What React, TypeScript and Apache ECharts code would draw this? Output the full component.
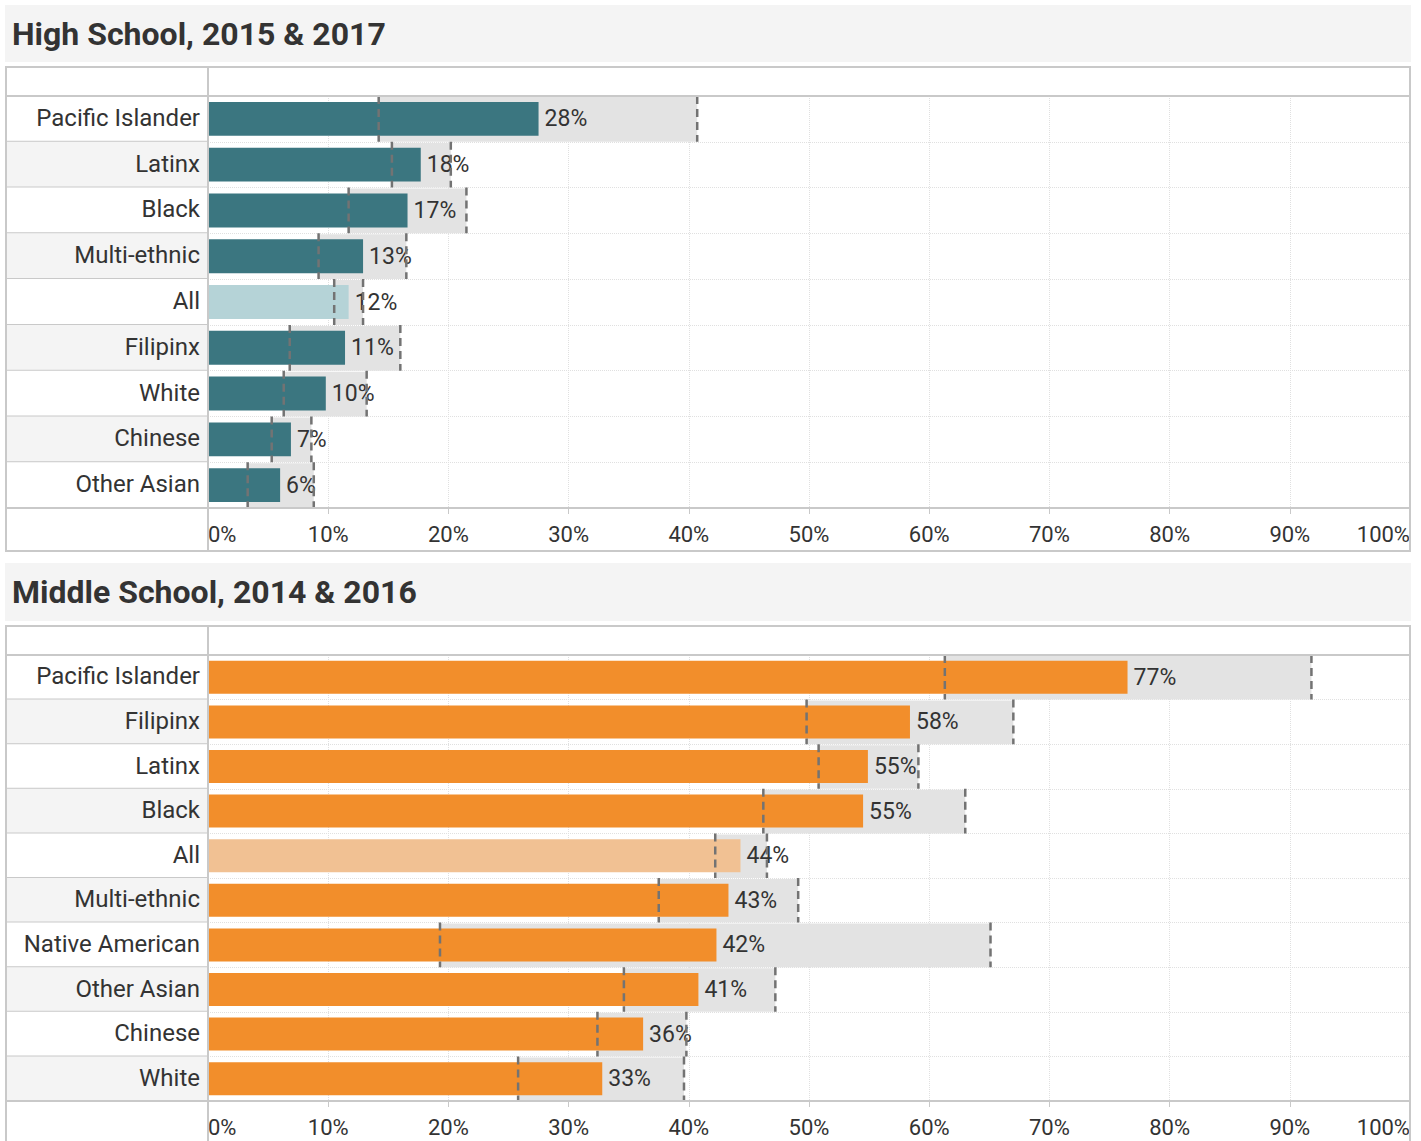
import React, { useEffect, useRef } from "react";
import * as echarts from "echarts";

// ---- Data ----
const hsTitle = "High School, 2015 & 2017";
const hsCategories = ["Pacific Islander", "Latinx", "Black", "Multi-ethnic", "All", "Filipinx", "White", "Chinese", "Other Asian"];
const hsValues = [27.5, 17.7, 16.6, 12.9, 11.7, 11.4, 9.8, 6.9, 6.0];
const hsLow = [14.2, 15.3, 11.7, 9.2, 10.5, 6.8, 6.3, 5.3, 3.3];
const hsHigh = [40.7, 20.2, 21.5, 16.5, 12.9, 16.0, 13.2, 8.6, 8.8];

const msTitle = "Middle School, 2014 & 2016";
const msCategories = ["Pacific Islander", "Filipinx", "Latinx", "Black", "All", "Multi-ethnic", "Native American", "Other Asian", "Chinese", "White"];
const msValues = [76.5, 58.4, 54.9, 54.5, 44.3, 43.3, 42.3, 40.8, 36.2, 32.8];
const msLow = [61.3, 49.8, 50.8, 46.2, 42.2, 37.5, 19.3, 34.6, 32.4, 25.8];
const msHigh = [91.8, 67.0, 59.1, 63.0, 46.5, 49.1, 65.1, 47.2, 39.8, 39.6];

const axisMin = 0;
const axisMax = 100;
const axisInterval = 10;

const FONT = 'Roboto, "Noto Sans", "DejaVu Sans", sans-serif';
const TITLE_FONT = 'Roboto, "Noto Sans", sans-serif';

const panels = [
  {
    title: hsTitle, cats: hsCategories, values: hsValues, low: hsLow, high: hsHigh,
    color: "#3b7680", allColor: "#b5d3d7",
    bandTop: 5, bandBottom: 62, frameTop: 67, gridTop: 96, gridBottom: 508, frameBottom: 551,
  },
  {
    title: msTitle, cats: msCategories, values: msValues, low: msLow, high: msHigh,
    color: "#f28e2b", allColor: "#f1c193",
    bandTop: 563, bandBottom: 621, frameTop: 626, gridTop: 655, gridBottom: 1101, frameBottom: 1145,
  },
];

const LEFT = 6;
const DIV = 208;
const RIGHT = 1410;
const BORDER = "#c9c9c9";

function buildOption() {
  const grid: any[] = [];
  const xAxis: any[] = [];
  const yAxis: any[] = [];
  const series: any[] = [];
  const graphic: any[] = [];

  panels.forEach((p, pi) => {
    const gPlot = pi * 2;
    const gLab = pi * 2 + 1;
    const h = p.gridBottom - p.gridTop;
    grid.push({ left: DIV, width: RIGHT - DIV, top: p.gridTop, height: h });
    grid.push({ left: LEFT, width: DIV - LEFT, top: p.gridTop, height: h });

    xAxis.push({
      gridIndex: gPlot, type: "value", min: axisMin, max: axisMax, interval: axisInterval,
      axisLine: { show: true, lineStyle: { color: BORDER, width: 2 } },
      axisTick: { show: true, length: 6, lineStyle: { color: BORDER, width: 1 } },
      axisLabel: {
        formatter: "{value}%", fontSize: 22, color: "#333", margin: 15, fontFamily: FONT,
        alignMinLabel: "left", alignMaxLabel: "right",
      },
      splitLine: { show: true, lineStyle: { type: "dotted", color: "#e0e0e0", width: 1 } },
    });
    xAxis.push({ gridIndex: gLab, type: "value", min: 0, max: 1, show: false });

    yAxis.push({
      gridIndex: gPlot, type: "category", data: p.cats, inverse: true,
      axisLine: { show: false }, axisTick: { show: false }, axisLabel: { show: false },
      splitLine: { show: true, interval: 0, lineStyle: { type: "dotted", color: "#e0e0e0", width: 1 } },
    });
    yAxis.push({ gridIndex: gLab, type: "category", data: p.cats, inverse: true, show: false });

    const ciData = p.cats.map((c, k) => [k, p.low[k], p.high[k]]);

    // CI band
    series.push({
      type: "custom", xAxisIndex: gPlot, yAxisIndex: gPlot, z: 1,
      data: ciData,
      encode: { y: 0, x: [1, 2] },
      renderItem: (params: any, api: any) => {
        const i = api.value(0);
        const lo = api.coord([api.value(1), i]);
        const hi = api.coord([api.value(2), i]);
        const bh = api.size([0, 1])[1];
        return {
          type: "rect",
          shape: { x: lo[0], y: lo[1] - bh / 2 + 1, width: hi[0] - lo[0], height: bh - 1 },
          style: { fill: "#e3e3e3" },
        };
      },
    });

    // bars
    series.push({
      type: "bar", xAxisIndex: gPlot, yAxisIndex: gPlot, z: 2,
      barWidth: "74%",
      data: p.values.map((v, k) => ({
        value: v,
        itemStyle: { color: p.cats[k] === "All" ? p.allColor : p.color },
      })),
      label: {
        show: true, position: "right", distance: 6, fontSize: 23, color: "#333", fontFamily: FONT,
        formatter: (prm: any) => Math.round(prm.value) + "%",
      },
    });

    // dashed CI ends
    series.push({
      type: "custom", xAxisIndex: gPlot, yAxisIndex: gPlot, z: 3,
      data: ciData,
      encode: { y: 0, x: [1, 2] },
      renderItem: (params: any, api: any) => {
        const i = api.value(0);
        const lo = api.coord([api.value(1), i]);
        const hi = api.coord([api.value(2), i]);
        const bh = api.size([0, 1])[1];
        const st = { stroke: "#737373", lineWidth: 2.5, lineDash: [8, 5] };
        return {
          type: "group",
          children: [
            { type: "line", shape: { x1: lo[0], y1: lo[1] - bh / 2, x2: lo[0], y2: lo[1] + bh / 2 }, style: st },
            { type: "line", shape: { x1: hi[0], y1: hi[1] - bh / 2, x2: hi[0], y2: hi[1] + bh / 2 }, style: st },
          ],
        };
      },
    });

    // label column
    series.push({
      type: "custom", xAxisIndex: gLab, yAxisIndex: gLab, z: 1,
      data: p.cats.map((c, k) => [k]),
      encode: { y: 0 },
      renderItem: (params: any, api: any) => {
        const i = api.value(0);
        const cs = params.coordSys;
        const c = api.coord([0, i]);
        const bh = api.size([0, 1])[1];
        const top = c[1] - bh / 2;
        return {
          type: "group",
          children: [
            {
              type: "rect",
              shape: { x: cs.x, y: top, width: cs.width, height: bh },
              style: { fill: i % 2 === 1 ? "#f4f4f4" : "#ffffff" },
            },
            {
              type: "line",
              shape: { x1: cs.x, y1: top + bh, x2: cs.x + cs.width, y2: top + bh },
              style: { stroke: BORDER, lineWidth: 2 },
            },
            {
              type: "text",
              style: {
                text: p.cats[i], x: cs.x + cs.width - 8, y: c[1] - 1,
                align: "right", verticalAlign: "middle",
                fontSize: 24, fill: "#333", fontFamily: FONT,
              },
            },
          ],
        };
      },
    });

    // frame and title band
    graphic.push(
      {
        type: "rect", z: 0,
        shape: { x: 5, y: p.bandTop, width: 1406, height: p.bandBottom - p.bandTop },
        style: { fill: "#f4f4f4" },
      },
      {
        type: "text", z: 10, x: 12, y: (p.bandTop + p.bandBottom) / 2,
        style: {
          text: p.title, fontSize: 32, fontWeight: "bold", fill: "#333", fontFamily: TITLE_FONT,
          verticalAlign: "middle",
        },
      },
      {
        type: "rect", z: 100,
        shape: { x: LEFT, y: p.frameTop, width: RIGHT - LEFT, height: p.frameBottom - p.frameTop },
        style: { fill: "none", stroke: BORDER, lineWidth: 2 },
      },
      {
        type: "line", z: 100,
        shape: { x1: LEFT, y1: p.gridTop, x2: RIGHT, y2: p.gridTop },
        style: { stroke: BORDER, lineWidth: 2 },
      },
      {
        type: "line", z: 100,
        shape: { x1: LEFT, y1: p.gridBottom, x2: RIGHT, y2: p.gridBottom },
        style: { stroke: BORDER, lineWidth: 2 },
      },
      {
        type: "line", z: 100,
        shape: { x1: DIV, y1: p.frameTop, x2: DIV, y2: p.frameBottom },
        style: { stroke: BORDER, lineWidth: 2 },
      }
    );
  });

  return {
    animation: false,
    backgroundColor: "#ffffff",
    textStyle: { fontFamily: FONT },
    grid, xAxis, yAxis, series, graphic,
  };
}

export default function App() {
  const ref = useRef<HTMLDivElement>(null);
  useEffect(() => {
    if (!ref.current) return;
    const chart = echarts.init(ref.current, undefined, { renderer: "svg" });
    chart.setOption(buildOption() as any);
    return () => chart.dispose();
  }, []);
  return (
    <div
      ref={ref}
      style={{ position: "absolute", left: 0, top: 0, width: 1421, height: 1141 }}
    />
  );
}
